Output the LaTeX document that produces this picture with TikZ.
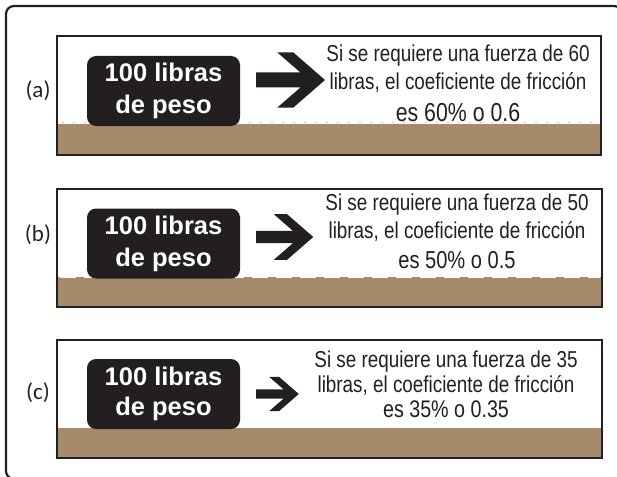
\documentclass[tikz,border=0pt]{standalone}
\usepackage{fontspec}
\setmainfont{Liberation Sans}
\newfontfamily\narrowsans[FakeStretch=0.82]{Liberation Sans}
\newfontfamily\labelfont{Carlito}
\usetikzlibrary{positioning}
\definecolor{ground}{RGB}{166,138,108}
\definecolor{ink}{RGB}{35,31,32}

\begin{document}
\begin{tikzpicture}[x=1pt,y=-1pt,
    every node/.style={inner sep=0pt},
    panel/.style={draw=ink,line width=2.4pt},
    weight/.style={fill=ink,rounded corners=9pt,minimum width=153pt,minimum height=70pt,
        text=white,align=center,font=\bfseries\fontsize{25.5}{32}\selectfont},
    caption/.style={anchor=base,font=\narrowsans\fontsize{23}{27}\selectfont,text=ink},
    result/.style={anchor=base,font=\narrowsans\fontsize{26}{27}\selectfont,text=ink},
    tag/.style={font=\labelfont\fontsize{23}{24}\selectfont,text=ink},
    pics/push/.style={code={
        \fill[ink] (0,-7.5) -- (44.4,-7.5) -- (21.4,-27.5) -- (37.4,-27.5) -- (69,0)
            -- (37.4,27.5) -- (21.4,27.5) -- (44.4,7.5) -- (0,7.5) -- cycle;
    }},
]
\clip (0,0) rectangle (617,476);

% Outer frame (runs off the right and bottom edge)
\draw[ink,line width=2.2pt,rounded corners=8pt] (6,6) rectangle (622,479);

% --- Panel (a): rough surface
\fill[white] (57,36) rectangle (601,155);
\fill[ground] (57,124) rectangle (601,155);
\draw[gray!45,line width=1pt,dash pattern=on 1.5pt off 9.5pt] (62,122.5) -- (598,122.5);
\draw[panel] (57,36) rectangle (601,155);
\node[weight] (wa) at (163.5,91) {100 libras\\de peso};
\pic at (256,80) {push};
\node[caption] (ta1) at (458,62) {Si se requiere una fuerza de 60};
\node[caption] (ta2) at (458,90) {libras, el coeficiente de fricción};
\node[result] (ta3) at (458,121) {es 60\% o 0.6};
\node[tag] (la) at (38,91) {(a)};

% --- Panel (b)
\fill[white] (57,189) rectangle (602,307);
\fill[ground] (57,277) rectangle (602,307);
\draw[white,line width=2pt,dash pattern=on 16pt off 8pt] (60,276.5) -- (600,276.5);
\draw[panel] (57,189) rectangle (602,307);
\node[weight] (wb) at (163.5,243.5) {100 libras\\de peso};
\pic[scale=0.83] at (256,237) {push};
\node[caption] (tb1) at (457,210) {Si se requiere una fuerza de 50};
\node[caption] (tb2) at (457,238) {libras, el coeficiente de fricción};
\node[result,font=\narrowsans\fontsize{24.5}{27}\selectfont] (tb3) at (457,268) {es 50\% o 0.5};
\node[tag] (lb) at (38,235) {(b)};

% --- Panel (c): smooth surface
\fill[white] (57,340) rectangle (602,458);
\fill[ground] (57,428) rectangle (602,458);
\draw[panel] (57,340) rectangle (602,458);
\node[weight,font=\bfseries\fontsize{25.5}{30}\selectfont] (wc) at (163.5,394) {100 libras\\de peso};
\pic[scale=0.62] at (256,394) {push};
\node[caption] (tc1) at (446,367) {Si se requiere una fuerza de 35};
\node[caption] (tc2) at (446,392) {libras, el coeficiente de fricción};
\node[result,font=\narrowsans\fontsize{24}{27}\selectfont] (tc3) at (446,417) {es 35\% o 0.35};
\node[tag] (lc) at (38,393) {(c)};
\end{tikzpicture}
\end{document}
